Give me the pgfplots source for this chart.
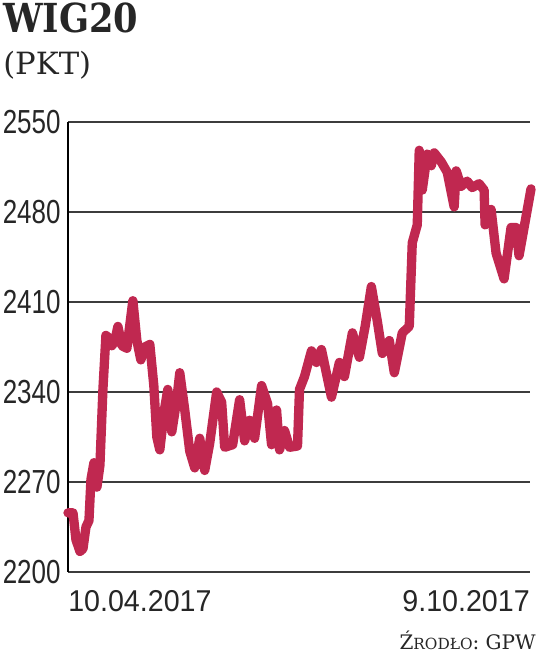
\documentclass[border=0pt]{standalone}
\usepackage{fontspec}
\usepackage{pgfplots}
\usepackage{pgfplotstable}
\pgfplotsset{compat=1.18}
\setmainfont{Liberation Sans}
\newfontfamily\titlefont[FakeStretch=0.88]{DejaVu Serif}
\newfontfamily\tickfont[FakeStretch=0.78]{Liberation Sans}
\newfontfamily\xfont[FakeStretch=0.95]{Liberation Sans}
\newfontfamily\srcfont{DejaVu Serif}
\definecolor{wig}{RGB}{192,40,80}
\definecolor{gridc}{RGB}{60,60,60}
\pgfplotstableread{
px v
68 2246
73 2246
76 2225
80 2216
83 2218
86 2235
89 2240
91 2272
94 2285
97 2266
100 2283
103 2342
106 2384
109 2382
112 2376
115 2380
118 2391
122 2376
127 2374
133 2411
137 2380
141 2365
145 2375
150 2377
154 2345
157 2305
160 2295
165 2328
168 2342
172 2309
177 2334
180 2355
185 2326
190 2294
195 2281
200 2304
205 2279
210 2300
217 2340
222 2332
225 2297
233 2299
240 2334
245 2302
250 2318
255 2304
262 2345
268 2331
272 2299
277 2326
280 2295
285 2310
290 2297
298 2298
300 2342
305 2352
312 2372
317 2363
322 2373
332 2336
340 2363
345 2352
353 2386
360 2367
366 2392
372 2422
378 2395
383 2370
390 2380
395 2355
403 2386
410 2391
413 2456
418 2470
420 2528
423 2497
428 2525
432 2516
435 2526
442 2519
448 2511
455 2484
457 2512
462 2500
468 2504
473 2499
480 2502
485 2497
486 2470
492 2482
497 2448
505 2428
512 2468
517 2468
520 2446
532 2498
}\wigdata
\begin{document}
\begin{tikzpicture}
\useasboundingbox (-51pt,-62.25pt) rectangle (351pt,429pt);
\begin{axis}[at={(0,0)},anchor=south west, scale only axis,
 width=346.5pt, height=337.5pt,
 xmin=0, xmax=463, ymin=2200, ymax=2550,
 axis x line=none, axis y line=left,
 axis line style={-,line width=1.1pt,black},
 ytick={2200,2270,2340,2410,2480,2550}, major tick length=0pt,
 ymajorgrids, grid style={line width=1.1pt,gridc},
 yticklabel style={font=\fontsize{25}{25}\selectfont\tickfont, anchor=east, xshift=-2pt, text=black!85},
 /pgf/number format/assume math mode=true,
 /pgf/number format/set thousands separator={},
 clip=false]
\addplot[wig, line width=7pt, line join=round, line cap=round] table[x expr=\thisrow{px}-68, y=v] {\wigdata};
\end{axis}
\node[anchor=base west, inner sep=0, text=black!85, font=\titlefont\bfseries\fontsize{30}{30}\selectfont] at (-48.75pt,404.25pt) {WIG20};
\node[anchor=base west, inner sep=0, text=black!85, font=\srcfont\fontsize{23}{23}\selectfont] at (-48.75pt,372.75pt) {(PKT)};
\node[anchor=base west, inner sep=0, text=black!85, font=\xfont\fontsize{22.6}{22.6}\selectfont] at (0pt,-30pt) {10.04.2017};
\node[anchor=base east, inner sep=0, text=black!85, font=\xfont\fontsize{22.6}{22.6}\selectfont] at (346.5pt,-30pt) {9.10.2017};
\node[anchor=base east, inner sep=0, text=black!85, font=\srcfont\fontsize{15}{15}\selectfont] at (351pt,-58.5pt) {Ź{\fontsize{11.5}{11.5}\selectfont RODŁO}: GPW};
\end{tikzpicture}
\end{document}
